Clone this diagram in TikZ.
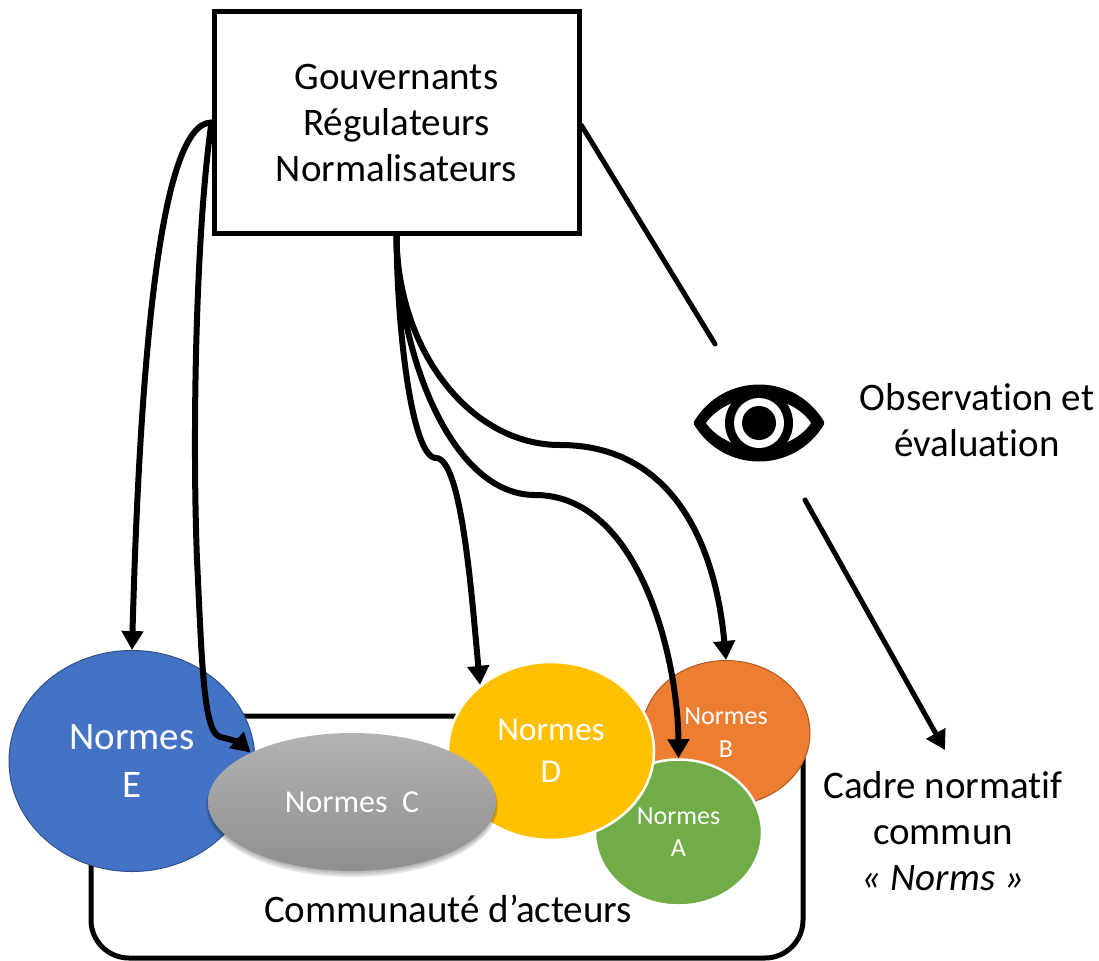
\documentclass[tikz,border=0pt]{standalone}
\usepackage{fontspec}
\usepackage{xcolor}
\usepackage{tikz}
\setmainfont[Ligatures=NoCommon]{Carlito}
\usetikzlibrary{arrows.meta}
\usetikzlibrary{shapes.geometric}
\definecolor{normeE}{HTML}{4472C4}
\definecolor{traitE}{HTML}{2F528F}
\definecolor{normeD}{HTML}{FFC000}
\definecolor{normeA}{HTML}{70AD47}
\definecolor{normeB}{HTML}{ED7D31}
\definecolor{traitB}{HTML}{AE5A21}
\tikzstyle{every node}=[align=center,inner sep=0pt]
\tikzstyle{grand}=[font=\fontsize{39}{46}\selectfont]
\tikzstyle{norme}=[ellipse,text=white,line width=1pt]
\tikzstyle{fleche}=[->,line width=6pt,color=black]
\tikzstyle{trait}=[line width=5pt,color=black]

\begin{document}
\begin{tikzpicture}[line cap=round,line join=round,>={Triangle[length=19pt,width=21pt]},x=1.0pt,y=-1.0pt]
    \useasboundingbox (0,0) rectangle (1099,960);
    \node[draw,line cap=butt,line width=5pt,rectangle,rounded corners=38pt,minimum width=712pt,minimum height=242pt] (communaute) at (447,837) {};
    \node[grand] (acteurs) at (448,909) {Communauté d’acteurs};
    \node[norme,draw=traitB,fill=normeB,minimum width=168pt,minimum height=145pt,font=\fontsize{26}{33}\selectfont] (normesB) at (726,733) {Normes\\B};
    \node[norme,draw=white,line width=2.5pt,fill=normeA,minimum width=167pt,minimum height=146pt,font=\fontsize{26}{32}\selectfont] (normesA) at (678.5,832.5) {Normes\\A};
    \node[norme,draw=white,line width=2.5pt,fill=normeD,minimum width=206pt,minimum height=178pt,font=\fontsize{33.5}{42}\selectfont] (normesD) at (551,751) {Normes\\D};
    \node[norme,draw=traitE,fill=normeE,minimum width=246pt,minimum height=221pt,font=\fontsize{39}{48}\selectfont] (normesE) at (132,761) {Normes\\E};
    \fill [black,opacity=0.10] (352,806) ellipse [x radius=146,y radius=71];
    \fill [black,opacity=0.10] (352,805) ellipse [x radius=145,y radius=70];
    \fill [black,opacity=0.10] (352,804) ellipse [x radius=144,y radius=69];
    \node[norme,top color=black!30,bottom color=black!44,minimum width=288pt,minimum height=138pt,font=\fontsize{32}{38}\selectfont] (normesC) at (352,802) {Normes\ \ C};
    \node[draw,line width=5pt,rectangle,line join=miter,fill=white,minimum width=365pt,minimum height=221pt,grand] (gouv) at (396.5,122.5) {Gouvernants\\Régulateurs\\Normalisateurs};
    \draw [fleche] (gouv.west) .. controls (160,122) and (140,360) .. (normesE.north);
    \draw [fleche] (gouv.west) .. controls (196,230) and (192,430) .. (197,560) .. controls (202,660) and (203,732) .. (220,737) .. controls (230,739) and (240,743) .. (normesC.154);
    \draw [fleche] (gouv.south) .. controls (397,330) and (412,458) .. (436,458) .. controls (462,458) and (472,600) .. (normesD.137);
    \draw [fleche] (gouv.south) .. controls (397,350) and (450,495) .. (535,495) .. controls (640,495) and (678,660) .. (normesA.north);
    \draw [fleche] (gouv.south) .. controls (397,350) and (470,445) .. (560,445) .. controls (670,445) and (715,540) .. (normesB.north);
    \coordinate (oeilHaut) at (715,344);
    \coordinate (oeilBas) at (805,500);
    \coordinate (cadreHaut) at (945,750);
    \draw [trait] (gouv.east) ++(0,3) -- (oeilHaut);
    \draw [trait,->] (oeilBas) -- (cadreHaut);
    \draw [fill=black,line width=5pt] (696,423) .. controls (725,375) and (793,375) .. (822,423) .. controls (793,471) and (725,471) .. cycle;
    \fill [white] (706,423) .. controls (730,390) and (788,390) .. (811,423) .. controls (788,456) and (730,456) .. cycle;
    \fill (759,423) circle (34pt);
    \fill [white] (759,423) circle (25pt);
    \fill (759,423) circle (17pt);
    \node[grand] (observation) at (977,420) {Observation et\\évaluation};
    \node[grand] (cadre) at (943,831) {Cadre normatif\\commun\\\textit{« Norms »}};
\end{tikzpicture}
\end{document}
